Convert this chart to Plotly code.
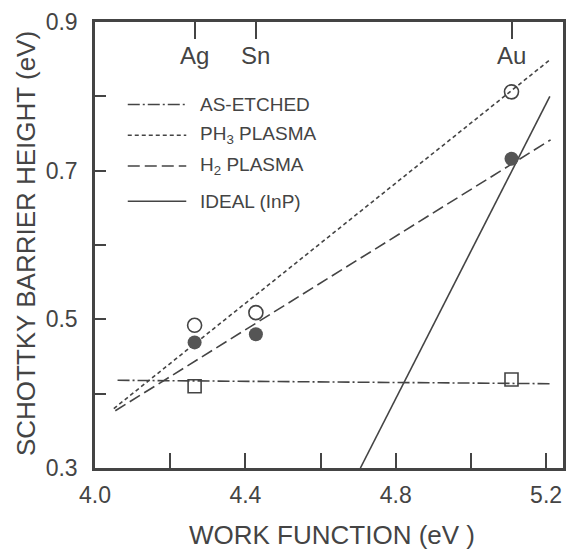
import plotly.graph_objects as go

# ---- data ----
metals = ["Ag", "Sn", "Au"]
work_function = [4.265, 4.428, 5.108]

as_etched_pts = [0.410, None, 0.419]
ph3_pts = [0.492, 0.509, 0.806]
h2_pts = [0.469, 0.480, 0.716]

as_etched_fit_x = [4.06, 5.21]
as_etched_fit_y = [0.418, 0.4134]
ph3_fit_x = [4.05, 5.21]
ph3_fit_y = [0.380, 0.849]
h2_fit_x = [4.054, 5.212]
h2_fit_y = [0.377, 0.7415]
ideal_x = [4.706, 5.21]
ideal_y = [0.300, 0.800]

x_tickvals = [4.0, 4.4, 4.8, 5.2]
x_ticktext = ["4.0", "4.4", "4.8", "5.2"]
x_minor_vals = [4.2, 4.6, 5.0]
y_tickvals = [0.3, 0.5, 0.7, 0.9]
y_ticktext = ["0.3", "0.5", "0.7", "0.9"]
y_minor_vals = [0.4, 0.6, 0.8]

legend_labels = ["AS-ETCHED", "PH<sub>3</sub> PLASMA", "H<sub>2</sub> PLASMA", "IDEAL (InP)"]
legend_dashes = ["12px,3px,2px,3px", "4px,3px", "12px,5px", "solid"]

INK = "#444444"
FONT = "Liberation Sans, Arial, sans-serif"

fig = go.Figure()

fig.add_trace(go.Scatter(x=as_etched_fit_x, y=as_etched_fit_y, mode="lines",
                         line=dict(color=INK, width=1.6, dash=legend_dashes[0]), showlegend=False))
fig.add_trace(go.Scatter(x=ph3_fit_x, y=ph3_fit_y, mode="lines",
                         line=dict(color=INK, width=1.6, dash=legend_dashes[1]), showlegend=False))
fig.add_trace(go.Scatter(x=h2_fit_x, y=h2_fit_y, mode="lines",
                         line=dict(color=INK, width=1.6, dash=legend_dashes[2]), showlegend=False))
fig.add_trace(go.Scatter(x=ideal_x, y=ideal_y, mode="lines",
                         line=dict(color=INK, width=1.6), showlegend=False))

fig.add_trace(go.Scatter(x=work_function, y=as_etched_pts, mode="markers",
                         marker=dict(symbol="square-open", size=13, color=INK, line=dict(width=1.6)),
                         showlegend=False))
fig.add_trace(go.Scatter(x=work_function, y=ph3_pts, mode="markers",
                         marker=dict(symbol="circle-open", size=14, color=INK, line=dict(width=1.6)),
                         showlegend=False))
fig.add_trace(go.Scatter(x=work_function, y=h2_pts, mode="markers",
                         marker=dict(symbol="circle", size=14, color="#555555"),
                         showlegend=False))

# invisible trace for top axis
fig.add_trace(go.Scatter(x=work_function, y=ph3_pts, xaxis="x2", mode="markers",
                         marker=dict(opacity=0), hoverinfo="skip", showlegend=False))

# metal labels under top ticks
for m, wf in zip(metals, work_function):
    fig.add_annotation(x=wf, y=0.855, xref="x", yref="y", text=m, showarrow=False,
                       xanchor="center", yanchor="middle",
                       font=dict(family=FONT, size=24, color=INK))

# manual legend
leg_y = [0.815, 0.746, 0.677, 0.598]
for lab, dash, yy in zip(legend_labels, legend_dashes, leg_y):
    fig.add_shape(type="line", xref="paper", yref="paper", x0=0.070, x1=0.195, y0=yy, y1=yy,
                  line=dict(color=INK, width=1.6, dash=dash))
    fig.add_annotation(x=0.221, y=yy, xref="paper", yref="paper", text=lab, showarrow=False,
                       xanchor="left", yanchor="middle",
                       font=dict(family=FONT, size=19, color=INK))

# axis titles
fig.add_annotation(x=0.507, y=-0.1496, xref="paper", yref="paper", text="WORK FUNCTION (eV )",
                   showarrow=False, xanchor="center", yanchor="middle",
                   font=dict(family=FONT, size=26, color=INK))
fig.add_annotation(x=-0.1486, y=0.503, xref="paper", yref="paper", text="SCHOTTKY BARRIER HEIGHT (eV)",
                   showarrow=False, xanchor="center", yanchor="middle", textangle=-90,
                   font=dict(family=FONT, size=26, color=INK))

fig.update_layout(
    width=575, height=556,
    margin=dict(l=95, r=9, t=20, b=88),
    paper_bgcolor="white", plot_bgcolor="white",
    font=dict(family=FONT, color=INK),
    xaxis=dict(range=[4.0, 5.245], tickvals=x_tickvals, ticktext=x_ticktext,
               ticks="inside", ticklen=15, tickwidth=1.8, tickcolor=INK,
               minor=dict(tickvals=x_minor_vals, ticks="inside", ticklen=15, tickwidth=1.8,
                          tickcolor=INK, showgrid=False),
               showline=True, linewidth=2.5, linecolor=INK, mirror=True,
               showgrid=False, zeroline=False, ticklabelstandoff=5,
               tickfont=dict(family=FONT, size=23, color=INK)),
    xaxis2=dict(range=[4.0, 5.245], overlaying="x", side="top", tickvals=work_function,
                ticks="inside", ticklen=17, tickwidth=1.8, tickcolor=INK,
                showticklabels=False, showgrid=False, zeroline=False, showline=False),
    yaxis=dict(range=[0.3, 0.9], tickvals=y_tickvals, ticktext=y_ticktext,
               ticks="inside", ticklen=11, tickwidth=1.8, tickcolor=INK,
               minor=dict(tickvals=y_minor_vals, ticks="inside", ticklen=11, tickwidth=1.8,
                          tickcolor=INK, showgrid=False),
               showline=True, linewidth=2.5, linecolor=INK, mirror=True,
               showgrid=False, zeroline=False, ticklabelstandoff=10,
               tickfont=dict(family=FONT, size=23, color=INK)),
)

fig.write_html("out.html")
